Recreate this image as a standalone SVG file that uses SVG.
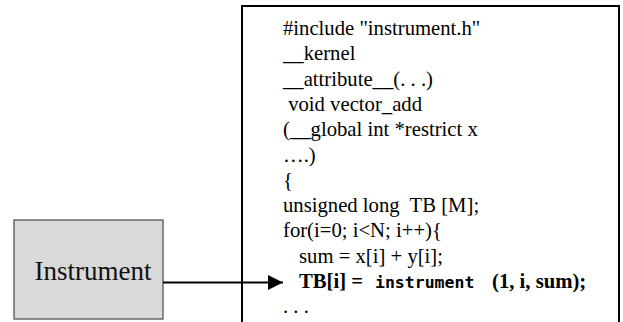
<svg xmlns="http://www.w3.org/2000/svg" width="623" height="322" viewBox="0 0 623 322">
<style>
.code{font-family:"Liberation Serif","Times New Roman",serif;font-size:20.7px;fill:#000}
.b{font-weight:bold}
.mono{font-family:"DejaVu Sans Mono","Liberation Mono",monospace;font-weight:bold;font-size:16.5px}
.lbl{font-family:"Liberation Serif","Times New Roman",serif;font-size:27px;fill:#111}
</style>
<defs>
<marker id="ah" markerWidth="16" markerHeight="16" refX="15" refY="7.5" orient="auto" markerUnits="userSpaceOnUse">
<path d="M0,0 L15,7.5 L0,15 Z" fill="#000"/>
</marker>
</defs>
<rect width="623" height="322" fill="#fff"/>
<g id="code-box">
<path d="M242,330 V6 H619 V330" fill="none" stroke="#000" stroke-width="2"/>
<text class="code" x="283" y="35">#include "instrument.h"</text>
<text class="code" x="283" y="60.3">__kernel</text>
<text class="code" x="283" y="85.6">__attribute__(. . .)</text>
<text class="code" x="283" y="110.9" xml:space="preserve"> void vector_add</text>
<text class="code" x="283" y="136.2">(__global int *restrict x</text>
<text class="code" x="283" y="161.5">….)</text>
<text class="code" x="283" y="186.8">{</text>
<text class="code" x="283" y="212.1" xml:space="preserve">unsigned long  TB [M];</text>
<text class="code" x="283" y="237.4">for(i=0; i&lt;N; i++){</text>
<text class="code" x="299" y="262.7">sum = x[i] + y[i];</text>
<text class="code b" y="288"><tspan x="299">TB[i] = </tspan><tspan class="mono" x="375">instrument</tspan><tspan x="492">(1, i, sum);</tspan></text>
<text class="code" x="283" y="313.3">. . .</text>
</g>
<g id="instrument">
<rect x="14" y="220" width="149" height="99" fill="#d9d9d9" stroke="#555" stroke-width="1.3"/>
<text class="lbl" x="93" y="280" text-anchor="middle">Instrument</text>
</g>
<g id="connectors">
<line x1="163" y1="282.5" x2="283" y2="282.5" stroke="#000" stroke-width="2" marker-end="url(#ah)"/>
</g>
</svg>
